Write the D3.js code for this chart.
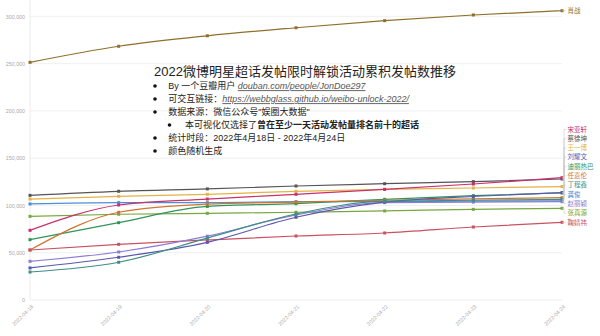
<!DOCTYPE html>
<html>
<head>
<meta charset="utf-8">
<script src="https://cdn.jsdelivr.net/npm/d3@7"></script>
<style>
  body { margin: 0; background: #fff; }
  svg { display: block; font-family: "Liberation Sans", "Noto Sans CJK SC", sans-serif; }
</style>
</head>
<body>
<div id="chart"></div>
<script>
const WIDTH = 600;
const HEIGHT = 336;
const LEFT = 30;
const RIGHT = 562;
const BOTTOM = 300;
const TOP = 16.4;

// dates on the x axis
var dates = ["2022-04-18", "2022-04-19", "2022-04-20", "2022-04-21", "2022-04-22", "2022-04-23", "2022-04-24"];
var yTicks = [0, 50000, 100000, 150000, 200000, 250000, 300000];

// series names and colours
var names = ["肖战", "蔡徐坤", "王一博", "龚俊", "张真源", "宋亚轩", "迪丽热巴", "任嘉伦", "鞠婧祎", "赵丽颖", "刘耀文", "丁程鑫"];
var colors = ["#8f6f2a", "#555555", "#e3b345", "#4d8fd6", "#76a83f", "#c8306e", "#2f9457", "#d07430", "#c9525f", "#8d7cd4", "#5a58aa", "#3d8f86"];

// cumulative posts per day
var xiaoZhan   = [251400, 268400, 279500, 288000, 295500, 301500, 306000];
var caiXukun   = [110700, 115000, 117500, 120600, 123000, 125200, 128000];
var wangYibo   = [106800, 109700, 111800, 115000, 117100, 118500, 120000];
var gongJun    = [101600, 103000, 103000, 104000, 104200, 104500, 105000];
var zhangZhenyuan = [88500, 90700, 91700, 92800, 94200, 95900, 97000];
var songYaxuan = [73700, 100500, 106800, 111800, 117000, 122700, 129400];
var diliReba   = [63800, 81800, 99000, 101900, 106500, 110400, 113200];
var renJialun  = [52900, 92800, 101500, 103500, 105500, 107000, 108200];
var juJingyi   = [52900, 58900, 63500, 67700, 70900, 77200, 82200];
var zhaoLiying = [40900, 50800, 67500, 90000, 103000, 103500, 104000];
var liuYaowen  = [33900, 45200, 61000, 87500, 103500, 109500, 113600];
var dingChengxin = [29600, 39900, 65500, 91000, 104500, 105500, 106500];

var values = [xiaoZhan, caiXukun, wangYibo, gongJun, zhangZhenyuan, songYaxuan, diliReba, renJialun, juJingyi, zhaoLiying, liuYaowen, dingChengxin];

var series = names.map(function (n, i) {
  return { name: n, color: colors[i], values: values[i] };
});

var svg = d3.select("#chart").append("svg")
  .attr("width", WIDTH)
  .attr("height", HEIGHT);

var xScale = d3.scalePoint().domain(dates).range([LEFT, RIGHT]);
var yScale = d3.scaleLinear().domain([0, 300000]).range([BOTTOM, TOP]);

// grid
svg.append("g").selectAll("line")
  .data(yTicks)
  .enter().append("line")
  .attr("x1", LEFT).attr("x2", RIGHT)
  .attr("y1", function (d) { return yScale(d); })
  .attr("y2", function (d) { return yScale(d); })
  .attr("stroke", "#ececec")
  .attr("stroke-width", 0.8);

svg.append("line")
  .attr("x1", LEFT).attr("x2", LEFT)
  .attr("y1", 0).attr("y2", BOTTOM)
  .attr("stroke", "#e6e6e6")
  .attr("stroke-width", 0.8);

// y axis
var yAxis = d3.axisLeft(yScale).tickValues(yTicks).tickSize(0).tickPadding(5)
  .tickFormat(d3.format(","));
svg.append("g")
  .attr("transform", "translate(" + LEFT + ",0)")
  .call(yAxis)
  .call(function (g) { g.select(".domain").remove(); })
  .selectAll("text")
  .attr("fill", "#a8a8a8")
  .style("font-size", "5.3px");

// x axis
var xAxis = d3.axisBottom(xScale).tickSize(0).tickPadding(0);
svg.append("g")
  .attr("transform", "translate(0," + BOTTOM + ")")
  .call(xAxis)
  .call(function (g) { g.select(".domain").remove(); })
  .selectAll("text")
  .attr("fill", "#a8a8a8")
  .style("font-size", "5.3px")
  .attr("text-anchor", "end")
  .attr("dy", "0.3em")
  .attr("transform", "translate(2,6) rotate(-45)");

// text block
var note = svg.append("g").attr("fill", "#222");
note.append("text")
  .attr("x", 154).attr("y", 76)
  .style("font-size", "13px")
  .text("2022微博明星超话发帖限时解锁活动累积发帖数推移");

var rows = [
  { lvl: 0, parts: [["By 一个豆瓣用户 ", ""], ["douban.com/people/JonDoe297", "link"]] },
  { lvl: 0, parts: [["可交互链接：", ""], ["https://webbglass.github.io/weibo-unlock-2022/", "link"]] },
  { lvl: 0, parts: [["数据来源：微信公众号\"娱圈大数据\"", ""]] },
  { lvl: 1, parts: [["本可视化仅选择了", ""], ["曾在至少一天活动发帖量排名前十的超话", "bold"]] },
  { lvl: 0, parts: [["统计时段：2022年4月18日 - 2022年4月24日", ""]] },
  { lvl: 0, parts: [["颜色随机生成", ""]] }
];

rows.forEach(function (r, i) {
  var cy = 86 + i * 13;
  var bx = r.lvl ? 169.5 : 155;
  note.append("circle").attr("cx", bx).attr("cy", cy).attr("r", 1.8).attr("fill", "#111");
  var t = note.append("text")
    .attr("x", bx + (r.lvl ? 15.5 : 13.3)).attr("y", cy + 3.2)
    .style("font-size", "9px");
  r.parts.forEach(function (p) {
    var s = t.append("tspan").text(p[0]);
    if (p[1] == "link") {
      s.attr("fill", "#555").style("font-style", "italic").style("text-decoration", "underline");
    }
    if (p[1] == "bold") {
      s.style("font-weight", "bold");
    }
  });
});

// lines
var line = d3.line()
  .x(function (d, i) { return xScale(dates[i]); })
  .y(function (d) { return yScale(d); })
  .curve(d3.curveMonotoneX);

var lines = svg.append("g");
series.forEach(function (s) {
  lines.append("path")
    .attr("d", line(s.values))
    .attr("fill", "none")
    .attr("stroke", s.color)
    .attr("stroke-width", 1.2);
  lines.selectAll(null)
    .data(s.values)
    .enter().append("rect")
    .attr("x", function (d, i) { return xScale(dates[i]) - 1.5; })
    .attr("y", function (d) { return yScale(d) - 1.5; })
    .attr("width", 3).attr("height", 3)
    .attr("fill", s.color);
});

// end labels, stacked from the bottom so they do not overlap
var ends = series.map(function (s) {
  var v = s.values[s.values.length - 1];
  return { name: s.name, color: s.color, y0: yScale(v) };
}).sort(function (a, b) { return a.y0 - b.y0; });

var GAP = 9.3;
for (var i = ends.length - 1; i >= 0; i--) {
  if (i == ends.length - 1) { ends[i].y = ends[i].y0; continue; }
  var limit = ends[i + 1].y - GAP;
  ends[i].y = (ends[i].y0 > limit - 20) ? limit : ends[i].y0;
}

var lab = svg.append("g");
ends.forEach(function (e) {
  lab.append("path")
    .attr("d", "M" + RIGHT + "," + e.y0 + "L" + (RIGHT + 2) + "," + e.y0 +
      "L" + (RIGHT + 2) + "," + e.y + "L" + (RIGHT + 4) + "," + e.y)
    .attr("fill", "none")
    .attr("stroke", "#c8c8c8")
    .attr("stroke-width", 0.6);
  lab.append("text")
    .attr("x", RIGHT + 5.5).attr("y", e.y)
    .attr("dy", "0.35em")
    .attr("fill", e.color)
    .style("font-size", "6.5px")
    .text(e.name);
});
</script>
</body>
</html>
